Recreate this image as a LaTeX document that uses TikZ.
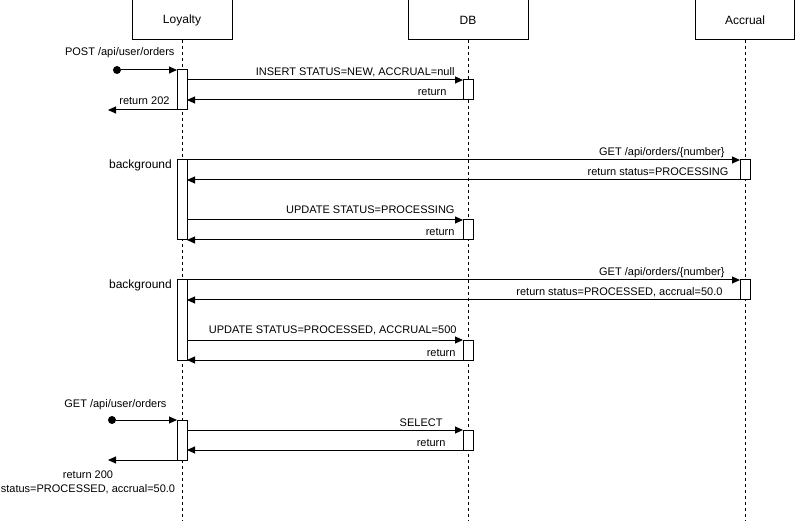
\documentclass[tikz,border=0pt]{standalone}
\usepackage{fontspec}
\setmainfont{Liberation Sans}
\usetikzlibrary{arrows.meta}
\tikzset{
    lifehead/.style={draw, line width=1pt, minimum height=40pt, inner sep=0pt, outer sep=0pt, font=\fontsize{12}{14}\selectfont},
    actbar/.style={draw, fill=white, line width=1pt, minimum width=10pt, inner sep=0pt, outer sep=0pt},
    lifeline/.style={line width=1pt, dash pattern=on 3pt off 3pt},
    msg/.style={line width=1pt, -{Triangle[length=8pt,width=7pt]}},
    msglabel/.style={font=\fontsize{11}{14}\selectfont, inner sep=0pt, anchor=base east, yshift=4pt},
    bglabel/.style={font=\fontsize{12}{14}\selectfont, inner sep=0pt, anchor=base east, xshift=-5pt, yshift=-9pt},
    startdot/.style={circle, fill, inner sep=0pt, minimum size=8pt},
}
\newcommand\ActBar[4]{%
    \node[actbar, minimum height=#4pt] (#1) at (#2 |- 0,#3) {};
}

\begin{document}
\begin{tikzpicture}[x=1pt, y=-1pt]
    \useasboundingbox (0,0) rectangle (795,521);
    \coordinate (Bottom) at (0,521);
    \node[lifehead, minimum width=100pt] (loyalty) at (182,20) {Loyalty};
    \node[lifehead, minimum width=120pt] (db) at (468,20) {DB};
    \node[lifehead, minimum width=99pt] (accrual) at (745,20) {Accrual};
    \foreach \n in {loyalty,db,accrual}
        \draw[lifeline] (\n.south) -- (\n.south |- Bottom);

    \ActBar{b1}{loyalty}{90}{40}
    \ActBar{b2}{loyalty}{200}{80}
    \ActBar{b3}{loyalty}{320}{80}
    \ActBar{b4}{loyalty}{440}{40}
    \ActBar{d1}{db}{90}{20}
    \ActBar{d2}{db}{230}{20}
    \ActBar{d3}{db}{350}{20}
    \ActBar{d4}{db}{440}{20}
    \ActBar{a1}{accrual}{170}{20}
    \ActBar{a2}{accrual}{290}{20}

    \node[startdot] (post) at (117,70) {};
    \draw[msg] (post) -- (b1.north west) node[msglabel, at end, xshift=-2pt, yshift=10pt] {POST /api/user/orders};
    \draw[msg] (d1.north west -| b1.east) -- (d1.north west) node[msglabel, at end, xshift=-8pt] {INSERT STATUS=NEW, ACCRUAL=null};
    \draw[msg] (d1.south west) -- (d1.south west -| b1.east) node[msglabel, at start, xshift=-16pt] {return};
    \coordinate (out202) at (108,110);
    \draw[msg] (b1.south west) -- (out202) node[msglabel, at start, xshift=-7pt, yshift=1pt] {return 202};

    \node[bglabel] (bg1) at (b2.north west) {background};
    \draw[msg] (b2.north east) -- (a1.north west) node[msglabel, at end, xshift=-15pt] {GET /api/orders/\{number\}};
    \draw[msg] (a1.south west) -- (a1.south west -| b2.east) node[msglabel, at start, xshift=-11pt] {return status=PROCESSING};
    \draw[msg] (d2.north west -| b2.east) -- (d2.north west) node[msglabel, at end, xshift=-8pt, yshift=2pt] {UPDATE STATUS=PROCESSING};
    \draw[msg] (d2.south west) -- (b2.south east) node[msglabel, at start, xshift=-8pt] {return};

    \node[bglabel] (bg2) at (b3.north west) {background};
    \draw[msg] (b3.north east) -- (a2.north west) node[msglabel, at end, xshift=-15pt] {GET /api/orders/\{number\}};
    \draw[msg] (a2.south west) -- (a2.south west -| b3.east) node[msglabel, at start, xshift=-17pt] {return status=PROCESSED, accrual=50.0};
    \draw[msg] (d3.north west -| b3.east) -- (d3.north west) node[msglabel, at end, xshift=-6pt, yshift=2pt] {UPDATE STATUS=PROCESSED, ACCRUAL=500};
    \draw[msg] (d3.south west) -- (b3.south east) node[msglabel, at start, xshift=-7pt] {return};

    \node[startdot] (getorders) at (112,420) {};
    \draw[msg] (getorders) -- (b4.north west) node[msglabel, at end, xshift=-10pt, yshift=9pt] {GET /api/user/orders};
    \draw[msg] (d4.north west -| b4.east) -- (d4.north west) node[msglabel, at end, xshift=-20pt] {SELECT};
    \draw[msg] (d4.south west) -- (d4.south west -| b4.east) node[msglabel, at start, xshift=-17pt] {return};
    \coordinate (out200) at (108,460);
    \draw[msg] (b4.south west) -- (out200) node[font=\fontsize{11}{14}\selectfont, align=center, inner sep=0pt, anchor=north, at end, xshift=-20pt, yshift=-10pt] {return 200\\status=PROCESSED, accrual=50.0};
\end{tikzpicture}
\end{document}
